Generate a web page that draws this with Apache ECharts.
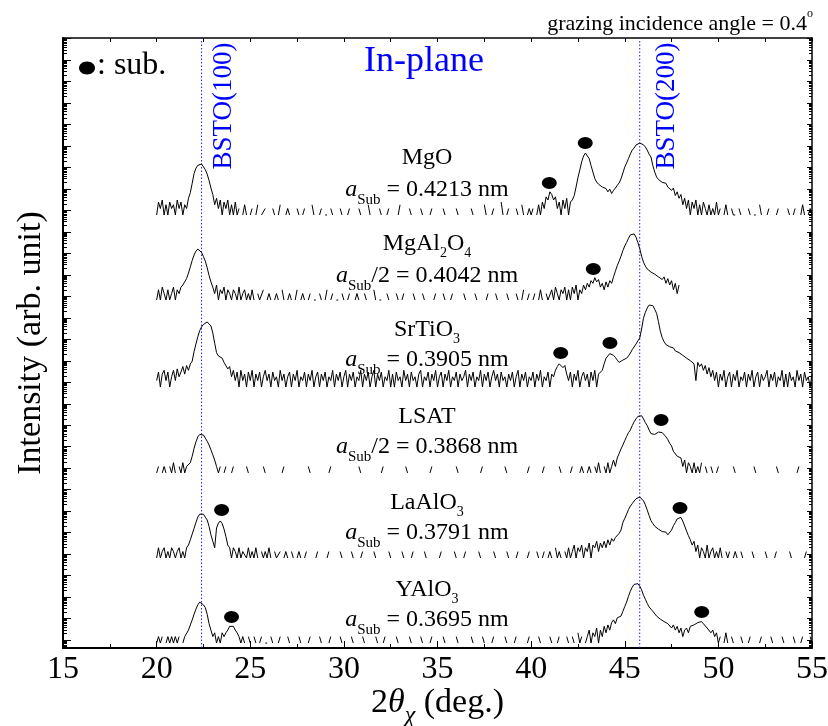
<!DOCTYPE html>
<html>
<head>
<meta charset="utf-8">
<script src="https://cdn.jsdelivr.net/npm/echarts@6/dist/echarts.min.js"></script>
<style>
html,body{margin:0;padding:0;background:#fff;}
#chart{width:828px;height:726px;}
</style>
</head>
<body>
<div id="chart"></div>
<script>
// ---- sampling grid of the scans (2theta_chi, deg.) ----
const X_START = 20.0;
const X_STEP = 0.1;

// ---- detector counts per sample, 20.0 .. 55.0 deg (0 = no counts -> not drawn on log scale) ----
const cMgO = [
 1,4,2,5,1,3,1,4,2,3,  1,5,2,4,1,3,2,6,11,30,  85,150,205,232,235,200,130,80,40,18,  9,3,6,2,5,1,4,2,5,1,  3,1,4,1,2,0,1,3,1,0,
 1,2,0,1,3,0,1,1,2,0,  1,0,2,1,0,1,3,0,0,1,  2,1,0,1,0,2,1,0,1,2,  0,1,0,3,1,0,0,1,2,0,  1,1,0,2,1,0,1,0,2,1,
 0,0,1,2,0,1,0,0,2,1,  0,1,0,3,1,0,0,1,0,2,  1,0,0,1,2,0,1,0,0,1,  3,0,0,1,0,2,1,0,0,1,  0,2,1,0,0,0,1,2,0,0,
 1,0,0,2,1,0,0,1,0,0,  2,1,0,0,1,0,0,0,2,1,  0,0,1,0,0,3,1,0,0,1,  2,0,1,0,4,1,0,1,2,0,  1,0,2,1,0,3,1,0,1,2,
 1,2,0,1,3,1,4,2,7,5,  12,9,5,7,2,4,1,5,2,6,  1,4,5,8,20,55,124,300,560,760,  720,420,200,100,50,34,27,23,20,19,  17,12,16,10,14,18,24,31,48,90,
 170,263,420,700,1050,1320,1800,2100,2240,2150,  1850,1480,1050,680,500,200,100,59,45,38,  33,28,30,20,24,14,18,8,12,6,  9,3,6,2,5,1,4,2,5,1,  3,1,4,2,1,3,1,2,1,4,
 1,2,0,1,3,1,0,2,1,1,  0,2,1,0,1,0,2,1,0,1,  1,0,3,1,0,0,1,2,0,1,  0,1,2,0,1,0,0,2,1,0,  1,2,0,0,1,3,1,0,1,2,  1
];
const cMgAl2O4 = [
 1,3,1,4,2,1,3,1,2,4,  1,3,2,4,5,6,10,18,35,70,  125,190,236,220,165,105,65,32,14,7,  4,2,5,1,3,2,4,1,3,2,  1,3,2,1,4,1,2,3,1,2,
 1,3,1,0,2,1,1,3,0,1,  2,1,0,1,2,1,0,3,1,0,  1,2,1,0,1,3,0,1,2,1,  0,1,2,0,1,1,0,2,1,0,  1,3,0,1,2,0,1,1,0,2,
 1,0,1,2,0,0,1,2,1,0,  0,2,1,0,1,0,3,1,0,1,  1,0,0,2,1,0,1,0,2,1,  0,1,2,0,0,1,0,2,1,0,  1,0,2,1,0,1,0,0,1,2,
 0,1,0,2,1,0,0,1,2,0,  1,0,1,0,2,1,0,1,0,0,  2,1,0,1,0,0,1,2,0,1,  0,2,1,0,1,0,0,2,1,0,  1,0,2,1,0,1,3,0,1,2,
 0,1,2,0,1,3,1,0,2,1,  1,3,1,4,2,1,3,2,4,1,  3,1,4,2,5,1,3,2,5,3,  6,4,8,6,11,7,9,4,6,3,  7,4,8,6,12,22,40,65,110,200,
 330,480,750,1080,1320,1200,850,480,250,110,  58,38,28,25,20,22,16,18,12,14,  9,12,6,10,5,8,3,6,2,5
];
const cSrTiO3 = [
 2,5,1,4,6,2,5,1,3,6,  2,7,3,5,9,4,10,6,12,16,  45,100,220,420,630,820,960,1070,1000,700,  330,110,40,28,24,22,14,12,7,9,  3,6,2,5,1,6,2,4,1,5,
 2,6,1,4,2,5,1,3,6,2,  4,1,5,2,3,1,6,2,4,1,  3,5,1,4,2,6,1,3,2,5,  1,4,2,6,1,3,5,1,4,2,  5,1,3,2,6,1,4,2,5,1,
 3,6,1,4,2,5,1,3,2,6,  1,4,2,5,1,3,6,1,4,2,  5,1,3,2,6,1,4,1,5,2,  3,1,6,2,4,1,5,2,3,1,  4,6,1,3,2,5,1,4,2,6,
 1,3,5,1,4,2,6,1,3,2,  5,1,4,2,3,6,1,4,2,5,  1,3,2,6,1,4,2,5,1,3,  6,2,4,1,5,2,3,1,4,2,  5,1,3,6,1,4,2,5,1,3,
 2,5,1,4,2,6,1,3,2,5,  1,4,3,6,9,12,14,8,10,4,  2,5,1,4,2,6,1,3,5,2,  4,1,5,2,6,1,4,4,6,12,  22,28,36,38,30,24,18,14,16,18,
 20,22,28,38,55,66,100,140,190,500,  1600,3000,4800,6500,7200,6200,4200,2700,1100,400,  200,130,95,85,75,62,66,48,48,40,  36,30,33,22,26,17,20,12,2,14,  9,12,6,10,4,8,3,6,2,5,
 1,4,2,6,1,3,5,1,4,2,  6,1,3,2,5,1,4,2,6,1,  3,5,1,4,2,3,6,1,4,2,  5,1,3,2,6,1,4,1,5,2,  3,1,6,2,4,1,5,2,3,1,  4
];
const cLSAT = [
 1,2,0,1,2,1,0,2,1,3,  1,0,2,1,3,1,2,2,3,6,  14,28,48,62,66,58,42,30,20,12,  7,4,2,1,2,0,1,2,0,0,  1,2,0,0,0,1,0,0,2,1,
 0,0,0,1,0,0,0,2,1,0,  0,0,1,0,0,0,0,1,2,0,  0,0,0,1,0,0,0,0,1,0,  0,2,1,0,0,0,0,1,0,0,  0,0,1,2,0,0,0,0,0,1,
 0,0,0,0,1,0,0,0,2,1,  0,0,0,0,0,1,0,0,0,0,  1,2,0,0,0,0,0,1,0,0,  0,0,0,2,1,0,0,0,0,0,  1,0,0,0,0,0,1,2,0,0,
 0,0,0,0,1,0,0,0,0,0,  2,1,0,0,0,0,0,1,0,0,  0,0,0,1,2,0,0,0,0,0,  1,0,0,0,0,0,2,1,0,0,  0,0,1,0,0,0,0,0,1,2,
 0,0,0,1,0,0,1,2,0,0,  1,0,0,1,0,2,1,0,0,1,  0,1,2,0,1,0,1,2,1,0,  1,2,1,0,2,1,3,1,0,2,  1,3,1,2,4,2,5,8,13,20,
 32,50,75,100,160,240,330,430,500,460,  330,220,160,100,68,59,62,72,80,81,  76,62,48,36,24,18,10,11,6,7,  5,2,4,1,3,2,1,3,1,2,  1,3,0,2,1,0,2,1,0,1,
 2,0,0,0,1,0,0,0,2,1,  0,0,0,1,0,0,0,0,0,2,  1,0,0,0,0,1,0,0,0,0,  0,2,1,0,0,0,0,1,0,0,  0,0,1,2,0,0,0,0,1,0,  1
];
const cLaAlO3 = [
 1,3,1,2,3,1,2,1,3,2,  1,2,3,1,2,1,3,4,7,13,  24,45,81,110,125,110,80,59,30,12,  6,3,25,42,53,40,22,10,4,3,  1,3,2,1,3,1,2,2,1,3,
 1,2,1,3,1,0,2,1,2,1,  3,1,0,2,1,1,2,0,1,2,  1,0,2,1,0,1,2,1,0,1,  2,0,1,0,0,1,2,0,1,0,  0,1,2,0,0,1,0,0,2,1,
 0,0,1,0,2,1,0,0,0,1,  2,0,0,1,0,0,2,1,0,0,  0,1,0,0,2,1,0,0,1,0,  0,2,1,0,0,0,1,2,0,0,  1,0,0,2,1,0,0,0,1,0,
 0,1,2,0,0,0,1,0,0,2,  1,0,0,0,1,2,0,0,0,1,  0,0,2,1,0,0,0,1,0,0,  2,1,0,0,1,0,0,2,1,0,  0,0,1,2,0,1,0,0,1,2,
 0,1,0,2,1,0,1,2,0,1,  2,1,0,3,1,2,1,0,2,1,  3,1,2,4,1,3,2,4,1,3,  2,5,1,4,3,6,2,5,3,6,  3,7,4,8,6,9,11,14,20,45,
 70,110,180,260,340,450,570,660,690,620,  460,300,170,95,55,40,30,26,22,20,  17,14,16,12,12,20,32,45,66,80,  78,52,31,18,11,7,4,6,2,4,  1,3,2,1,4,1,2,3,1,2,
 1,3,1,0,2,1,2,0,1,2,  1,0,2,1,0,1,0,0,2,1,  0,0,1,0,0,2,1,0,0,0,  1,2,0,0,0,1,0,0,2,1,  0,0,0,1,0,0,1,2,0,0,  1
];
const cYAlO3 = [
 1,2,1,2,0,1,2,1,2,1,  2,1,2,0,1,2,2,4,7,12,  22,38,60,81,76,60,45,22,8,4,  2,3,1,2,1,3,2,3,4,6,  7,6,4,3,2,1,2,1,0,2,
 1,0,2,1,0,1,2,0,1,1,  0,2,1,0,0,1,2,0,1,0,  2,1,0,1,0,0,2,1,0,1,  0,1,2,0,0,1,0,2,1,0,  0,0,1,2,0,1,0,0,2,1,
 0,1,0,0,2,1,0,1,0,0,  2,1,0,0,1,0,0,2,1,0,  0,1,2,0,0,0,1,0,2,1,  0,0,1,0,0,2,1,0,0,1,  0,2,1,0,0,0,1,2,0,0,
 1,0,0,2,1,0,0,1,0,0,  2,1,0,0,0,1,0,0,2,1,  0,0,1,0,2,1,0,0,0,1,  2,0,0,1,0,0,2,1,0,0,  0,1,2,0,0,1,0,0,1,2,
 0,0,1,0,2,1,0,0,1,0,  2,1,0,0,1,2,0,1,0,2,  1,0,2,1,0,3,1,2,0,1,  2,4,1,3,2,5,1,4,2,6,  3,7,4,9,12,8,15,14,18,30,
 50,81,150,260,400,540,620,580,450,300,  170,110,70,48,38,30,28,18,20,13,  15,10,12,8,9,5,7,4,6,3,  5,2,4,5,3,6,5,7,8,9,  10,10,8,7,5,5,3,4,2,3,
 1,2,0,1,3,1,0,2,1,0,  1,0,2,1,0,0,1,2,0,1,  0,0,1,2,0,1,0,0,2,1,  0,1,0,0,2,1,0,0,1,0,  2,1,0,0,1,2,0,1,0,2,  1
];

// vertical offset of each scan: log10 level of 1 count (decades)
const traceBase = [19.79, 15.83, 11.78, 7.78, 3.82, -0.14];

// substrate peak markers (x in deg., y in log10 units of the axis)
const subX = [40.97, 42.89, 43.32, 41.58, 44.21, 46.94, 23.47, 47.95, 24.0, 49.11];
const subY = [21.28, 23.14, 17.27, 13.36, 13.83, 10.24, 6.05, 6.15, 1.07, 1.31];

// BSTO reference positions (deg.)
const refLinesX = [22.4, 45.8];

// labels
const nameLabels = ['MgO', 'MgAl{s|2}O{s|4}', 'SrTiO{s|3}', 'LSAT', 'LaAlO{s|3}', 'YAlO{s|3}'];
const aLabels = [
  '{i|a}{S|Sub} = 0.4213 nm',
  '{i|a}{S|Sub}/2 = 0.4042 nm',
  '{i|a}{S|Sub} = 0.3905 nm',
  '{i|a}{S|Sub}/2 = 0.3868 nm',
  '{i|a}{S|Sub} = 0.3791 nm',
  '{i|a}{S|Sub} = 0.3695 nm'
];
const xTickMin = 15, xTickMax = 55, xTickStep = 5;
const yMin = -0.37, yMax = 28.03;

// ---- build ----
const F = "'Liberation Serif','Times New Roman',serif";
const traces = [cMgO, cMgAl2O4, cSrTiO3, cLSAT, cLaAlO3, cYAlO3];

const majorY = [], minorY = [];
for (let k = -1; k <= 28; k++) {
  if (k >= yMin && k <= yMax) majorY.push(k);
  for (let m = 2; m <= 9; m++) {
    const v = k + Math.log10(m);
    if (v >= yMin && v <= yMax) minorY.push(+v.toFixed(4));
  }
}

const series = [];
refLinesX.forEach(x => {
  series.push({
    type: 'line',
    data: [[x, yMin], [x, yMax]],
    showSymbol: false, symbol: 'none',
    lineStyle: { color: '#1a1aff', width: 1, type: [1.5, 2] },
    animation: false, silent: true, z: 2
  });
});
traces.forEach((c, k) => {
  series.push({
    type: 'line',
    data: c.map((v, i) => [+(X_START + i * X_STEP).toFixed(2), v > 0 ? Math.log10(v) + traceBase[k] : '-']),
    showSymbol: false,
    symbol: 'none',
    connectNulls: false,
    lineStyle: { color: '#000', width: 1 },
    itemStyle: { color: '#000' },
    animation: false,
    silent: true,
    z: 3
  });
});
series.push({
  type: 'scatter',
  data: subX.map((x, i) => [x, subY[i]]),
  symbol: 'circle',
  symbolSize: [15, 12],
  itemStyle: { color: '#000', opacity: 1 },
  animation: false,
  silent: true,
  z: 4
});

function yAx(pos, len, vals, line) {
  return {
    type: 'value', min: yMin, max: yMax, position: pos,
    axisLine: { show: line, onZero: false, lineStyle: { color: '#000', width: pos === 'left' ? 2 : 1.5 } },
    axisTick: { show: true, inside: true, length: len, customValues: vals, lineStyle: { color: '#000', width: 1 } },
    axisLabel: { show: false },
    splitLine: { show: false }
  };
}

const graphic = [
  { type: 'text', x: 813, y: 24, style: {
      text: 'grazing incidence angle = 0.4{sup|o}', align: 'right', verticalAlign: 'middle',
      fontSize: 22, fontFamily: F, fill: '#000', lineHeight: 32,
      rich: { sup: { fontSize: 12, fontFamily: F, verticalAlign: 'top', fill: '#000' } } } },
  { type: 'ellipse', shape: { cx: 87, cy: 68, rx: 8, ry: 6.5 }, style: { fill: '#000' } },
  { type: 'text', x: 97, y: 66, style: { text: ': sub.', align: 'left', verticalAlign: 'middle', fontSize: 32, fontFamily: F, fill: '#000' } },
  { type: 'text', x: 424, y: 62, style: { text: 'In-plane', align: 'center', verticalAlign: 'middle', fontSize: 36, fontFamily: F, fill: '#0000ff' } },
  { type: 'text', x: 224, y: 106, rotation: Math.PI / 2, style: { text: 'BSTO(100)', align: 'center', verticalAlign: 'middle', fontSize: 27, fontFamily: F, fill: '#0000ff' } },
  { type: 'text', x: 667, y: 106, rotation: Math.PI / 2, style: { text: 'BSTO(200)', align: 'center', verticalAlign: 'middle', fontSize: 27, fontFamily: F, fill: '#0000ff' } }
];
const nameY = [158, 244, 330, 417, 503, 590];
const aY = [190, 276, 360, 447, 533, 620];
nameLabels.forEach((t, i) => {
  graphic.push({ type: 'text', x: 427, y: nameY[i], z: 10, style: {
    text: t, align: 'center', verticalAlign: 'middle', fontSize: 24, fontFamily: F, fill: '#000', lineHeight: 32,
    rich: { s: { fontSize: 14, fontFamily: F, verticalAlign: 'bottom', fill: '#000' } } } });
});
aLabels.forEach((t, i) => {
  graphic.push({ type: 'text', x: 427, y: aY[i], z: 10, style: {
    text: t, align: 'center', verticalAlign: 'middle', fontSize: 24, fontFamily: F, fill: '#000', lineHeight: 36,
    rich: {
      i: { fontSize: 24, fontFamily: F, fontStyle: 'italic', fill: '#000', lineHeight: 36 },
      S: { fontSize: 15, fontFamily: F, verticalAlign: 'bottom', fill: '#000' }
    } } });
});

const chart = echarts.init(document.getElementById('chart'), null, { renderer: 'canvas' });
chart.setOption({
  animation: false,
  backgroundColor: '#fff',
  grid: { left: 63, right: 16, top: 38, bottom: 78, containLabel: false, outerBoundsMode: 'none' },
  xAxis: [
    {
      type: 'value', min: xTickMin, max: xTickMax, interval: xTickStep, position: 'bottom',
      axisLine: { show: true, onZero: false, lineStyle: { color: '#000', width: 2 } },
      axisTick: { show: true, inside: true, length: 7, lineStyle: { color: '#000', width: 1 } },
      minorTick: { show: true, splitNumber: 2, length: 4, lineStyle: { color: '#000', width: 1 } },
      axisLabel: { show: true, fontSize: 32, fontFamily: F, color: '#000', margin: 6 },
      splitLine: { show: false }, minorSplitLine: { show: false },
      name: '2{th|θ}{chi|χ} (deg.)', nameLocation: 'middle', nameGap: 30, nameMoveOverlap: false,
      nameTextStyle: { fontSize: 34, fontFamily: F, color: '#000', lineHeight: 50,
        rich: {
          th: { fontSize: 34, fontFamily: F, fontStyle: 'italic', color: '#000', lineHeight: 50 },
          chi: { fontSize: 24, fontFamily: F, fontStyle: 'italic', color: '#000', verticalAlign: 'bottom' }
        } }
    },
    {
      type: 'value', min: xTickMin, max: xTickMax, interval: xTickStep, position: 'top',
      axisLine: { show: true, onZero: false, lineStyle: { color: '#000', width: 1.5 } },
      axisTick: { show: true, inside: true, length: 4, lineStyle: { color: '#000', width: 1 } },
      minorTick: { show: true, splitNumber: 2, length: 4, lineStyle: { color: '#000', width: 1 } },
      axisLabel: { show: false },
      splitLine: { show: false }, minorSplitLine: { show: false }
    }
  ],
  yAxis: [
    Object.assign(yAx('left', 8, majorY, true), {
      name: 'Intensity (arb. unit)', nameLocation: 'middle', nameGap: 15, nameMoveOverlap: false,
      nameTextStyle: { fontSize: 34, fontFamily: F, color: '#000' }
    }),
    yAx('left', 4, minorY, false),
    yAx('right', 5, majorY, true),
    yAx('right', 3, minorY, false)
  ],
  series: series,
  graphic: graphic
});
</script>
</body>
</html>
